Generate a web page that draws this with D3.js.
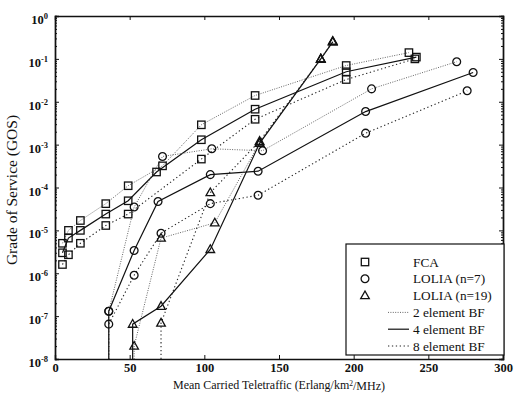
<!DOCTYPE html>
<meta charset="utf-8">
<title>GOS vs carried teletraffic</title>
<style>
  body { margin: 0; background: #fff; }
  text { font-family: "Liberation Serif", "Times New Roman", serif; fill: #111; }
</style>
<body>
<div id="chart"></div>
<script src="https://cdn.jsdelivr.net/npm/d3@7"></script>
<script>
// [traffic, GOS] pairs; GOS 0 means the curve drops off the axis
var fca2 = [[5,5e-6],[9,1e-5],[17,1.7e-5],[34,4.2e-5],[49,1.1e-4],[72,3.2e-4],[98,2.9e-3],[134,1.4e-2],[195,7e-2],[237,1.4e-1]];
var fca4 = [[5,3e-6],[9,6.6e-6],[17,1e-5],[34,2.4e-5],[49,4.9e-5],[68,2.3e-4],[98,1.3e-3],[134,6.7e-3],[195,5e-2],[242,1.1e-1]];
var fca8 = [[5,1.6e-6],[9,2.7e-6],[17,5e-6],[34,1.3e-5],[49,2.4e-5],[98,4.6e-4],[134,3.9e-3],[195,3.3e-2],[241,1e-1]];

var lolia7_2 = [[36,0],[36,1.3e-7],[53,3.5e-5],[72,5.3e-4],[105,8e-4],[139,7.2e-4],[212,2e-2],[269,8.6e-2]];
var lolia7_4 = [[36,0],[36,1.3e-7],[53,3.4e-6],[69,4.7e-5],[104,2e-4],[136,2.4e-4],[208,5.9e-3],[280,4.8e-2]];
var lolia7_8 = [[36,0],[36,6.5e-8],[53,9e-7],[71,8.6e-6],[104,4.2e-5],[136,6.6e-5],[208,1.85e-3],[276,1.8e-2]];

var lolia19_2 = [[53,0],[53,2e-8],[71,6.6e-6],[107,1.5e-5],[137,1.1e-3],[178,0.1],[186,0.25]];
var lolia19_4 = [[52,0],[52,6.5e-8],[71,1.7e-7],[104,3.6e-6],[137,1.07e-3],[178,0.1],[186,0.25]];
var lolia19_8 = [[71,0],[71,6.9e-8],[104,7.6e-5],[137,1.2e-3],[178,0.1],[186,0.26]];

var xTicks = [0, 50, 100, 150, 200, 250, 300];
var yExps = [0, -1, -2, -3, -4, -5, -6, -7, -8];
var legendSchemes = ["FCA", "LOLIA (n=7)", "LOLIA (n=19)"];
var legendBF = ["2 element BF", "4 element BF", "8 element BF"];

var series = [
  {data: fca2, sym: "square", bf: 0}, {data: fca4, sym: "square", bf: 1}, {data: fca8, sym: "square", bf: 2},
  {data: lolia7_2, sym: "circle", bf: 0}, {data: lolia7_4, sym: "circle", bf: 1}, {data: lolia7_8, sym: "circle", bf: 2},
  {data: lolia19_2, sym: "triangle", bf: 0}, {data: lolia19_4, sym: "triangle", bf: 1}, {data: lolia19_8, sym: "triangle", bf: 2}
];

// line styles for 2 / 4 / 8 element beamformers
var dash = ["1,1.4", null, "1.3,2.6"];
var lineW = [0.9, 1.2, 1.1];
var lineCol = ["#555", "#111", "#222"];

var W = 516, H = 394;
var margin = {top: 16, right: 13, bottom: 35, left: 55},
    width = W - margin.left - margin.right,
    height = H - margin.top - margin.bottom;

var svg = d3.select("#chart").append("svg")
    .attr("width", W).attr("height", H);
var g = svg.append("g")
    .attr("transform", "translate(" + margin.left + "," + margin.top + ")");

var x = d3.scaleLinear().domain([0, 300]).range([0, width]);
var y = d3.scaleLog().domain([1e-8, 1]).range([height, 0]);
function yy(v) { return v > 0 ? y(v) : height; }

// axes: ticks pointing inward on all four sides
var minor = [];
yExps.slice(1).forEach(function(e) {
  for (var k = 2; k < 10; k++) minor.push(k * Math.pow(10, e));
});

var axB = g.append("g").attr("transform", "translate(0," + height + ")")
  .call(d3.axisBottom(x).tickValues(xTicks).tickSize(-4).tickPadding(4).tickFormat(d3.format("d")));
var axT = g.append("g")
  .call(d3.axisTop(x).tickValues(xTicks).tickSize(-4).tickFormat(""));
var axL = g.append("g")
  .call(d3.axisLeft(y).tickValues(yExps.map(function(e) { return Math.pow(10, e); })).tickSize(-4).tickPadding(7).tickFormat(""));
var axR = g.append("g").attr("transform", "translate(" + width + ",0)")
  .call(d3.axisRight(y).tickValues(yExps.map(function(e) { return Math.pow(10, e); })).tickSize(-4).tickFormat(""));
g.append("g").call(d3.axisLeft(y).tickValues(minor).tickSize(-2).tickFormat(""));
g.append("g").attr("transform", "translate(" + width + ",0)")
  .call(d3.axisRight(y).tickValues(minor).tickSize(-2).tickFormat(""));

g.selectAll(".domain").attr("stroke", "#111").attr("stroke-width", 1.4);
g.selectAll(".tick line").attr("stroke", "#111");
axB.selectAll(".tick text").attr("font-size", 12.5).attr("font-weight", "bold")
  .style("font-family", "Liberation Serif").attr("fill", "#111");

// y tick labels as 10 with superscript exponent
axL.selectAll(".tick").each(function(d) {
  var e = Math.round(Math.log10(d));
  var t = d3.select(this).append("text")
    .attr("x", -7).attr("dy", "0.6em").attr("text-anchor", "end")
    .attr("font-size", 12.5).attr("font-weight", "bold");
  t.append("tspan").text("10");
  t.append("tspan").attr("font-size", 8.5).attr("dy", "-0.6em").text(e);
});

// curves
var line = d3.line().x(function(d) { return x(d[0]); }).y(function(d) { return yy(d[1]); });
series.forEach(function(s) {
  g.append("path").datum(s.data)
    .attr("d", line)
    .attr("fill", "none")
    .attr("stroke", lineCol[s.bf])
    .attr("stroke-width", lineW[s.bf])
    .attr("stroke-dasharray", dash[s.bf]);
});

function marker(sel, sym) {
  if (sym === "square") {
    sel.append("rect").attr("x", -3.7).attr("y", -3.7).attr("width", 7.4).attr("height", 7.4);
  } else if (sym === "circle") {
    sel.append("circle").attr("r", 3.9);
  } else {
    sel.append("path").attr("d", "M0,-4.6L4.3,3.1L-4.3,3.1Z");
  }
  sel.selectAll("*").attr("fill", "none").attr("stroke", "#111").attr("stroke-width", 1.3);
}

series.forEach(function(s) {
  g.selectAll(null).data(s.data.filter(function(d) { return d[1] > 0; }))
    .enter().append("g")
    .attr("transform", function(d) { return "translate(" + x(d[0]) + "," + yy(d[1]) + ")"; })
    .each(function() { marker(d3.select(this), s.sym); });
});

// axis titles
svg.append("text")
  .attr("transform", "translate(17," + 190 + ") rotate(-90)")
  .attr("text-anchor", "middle").attr("font-size", 15.5)
  .text("Grade of Service (GOS)");
var xt = svg.append("text")
  .attr("x", margin.left + width / 2).attr("y", 388.5)
  .attr("text-anchor", "middle").attr("font-size", 12);
xt.append("tspan").text("Mean Carried Teletraffic (Erlang/km");
xt.append("tspan").attr("font-size", 7.5).attr("dy", "-0.4em").text("2");
xt.append("tspan").attr("dy", "0.4em").text("/MHz)");

// legend
var lg = g.append("g").attr("transform", "translate(" + (346 - margin.left) + "," + (244 - margin.top) + ")");
lg.append("rect").attr("width", 158).attr("height", 111)
  .attr("fill", "#fff").attr("stroke", "#111").attr("stroke-width", 1.2);
var rowH = 16.8;
legendSchemes.forEach(function(name, i) {
  var r = lg.append("g").attr("transform", "translate(0," + (18 + i * rowH) + ")");
  var m = r.append("g").attr("transform", "translate(19,0)");
  marker(m, ["square", "circle", "triangle"][i]);
  r.append("text").attr("x", 67).attr("dy", "0.35em").attr("font-size", 13.3).text(name);
});
legendBF.forEach(function(name, i) {
  var r = lg.append("g").attr("transform", "translate(0," + (18 + (i + 3) * rowH) + ")");
  r.append("line").attr("x1", 42).attr("x2", 63)
    .attr("stroke", lineCol[i]).attr("stroke-width", lineW[i]).attr("stroke-dasharray", dash[i]);
  r.append("text").attr("x", 67).attr("dy", "0.35em").attr("font-size", 13.3).text(name);
});
</script>
</body>
